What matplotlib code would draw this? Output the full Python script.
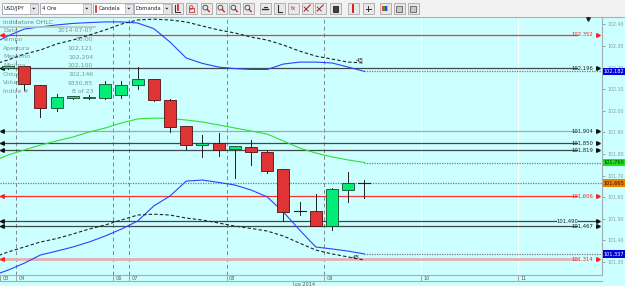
import numpy as np
import matplotlib.pyplot as plt
from matplotlib.patches import Rectangle, Circle, Polygon
from matplotlib.transforms import blended_transform_factory

# USD/JPY 4h candles, 3 - 9 Jul 2014
opens = [102.197, 102.207, 102.121, 102.012, 102.060, 102.060, 102.059, 102.073, 102.121, 102.147,
         102.050, 101.929, 101.841, 101.851, 101.823, 101.834, 101.809, 101.729, 101.537, 101.537,
         101.465, 101.632, 101.664]
highs = [102.207, 102.207, 102.121, 102.077, 102.070, 102.073, 102.137, 102.137, 102.204, 102.147,
         102.054, 101.929, 101.888, 101.897, 101.838, 101.864, 101.818, 101.729, 101.577, 101.614,
         101.642, 101.716, 101.679]
lows = [102.195, 102.096, 101.971, 101.999, 102.054, 102.052, 102.054, 102.059, 102.100, 102.045,
        101.901, 101.823, 101.786, 101.790, 101.688, 101.749, 101.712, 101.489, 101.517, 101.465,
        101.448, 101.577, 101.596]
closes = [102.206, 102.124, 102.012, 102.063, 102.068, 102.064, 102.124, 102.119, 102.146, 102.050,
          101.925, 101.841, 101.851, 101.818, 101.837, 101.807, 101.722, 101.532, 101.535, 101.465,
          101.636, 101.664, 101.665]

# indicators, one value per candle starting one candle before the first
band_up = [102.309, 102.346, 102.378, 102.388, 102.397, 102.404, 102.408, 102.411, 102.411, 102.406,
           102.380, 102.318, 102.244, 102.219, 102.202, 102.195, 102.191, 102.191, 102.216, 102.225,
           102.225, 102.221, 102.202, 102.182]
env_up = [102.212, 102.235, 102.262, 102.281, 102.309, 102.327, 102.350, 102.374, 102.401, 102.420,
          102.424, 102.420, 102.411, 102.392, 102.374, 102.360, 102.341, 102.327, 102.304, 102.276,
          102.253, 102.239, 102.225, 102.221]
middle = [101.763, 101.795, 101.818, 101.841, 101.860, 101.878, 101.901, 101.920, 101.943, 101.962,
          101.966, 101.964, 101.957, 101.948, 101.934, 101.920, 101.906, 101.892, 101.860, 101.827,
          101.804, 101.786, 101.772, 101.760]
band_low = [101.235, 101.262, 101.294, 101.332, 101.350, 101.369, 101.392, 101.420, 101.452, 101.489,
            101.559, 101.605, 101.674, 101.679, 101.668, 101.656, 101.633, 101.601, 101.531, 101.448,
            101.369, 101.360, 101.350, 101.337]
env_low = [101.318, 101.346, 101.369, 101.392, 101.408, 101.429, 101.452, 101.471, 101.494, 101.517,
           101.521, 101.517, 101.503, 101.494, 101.480, 101.466, 101.455, 101.443, 101.420, 101.387,
           101.355, 101.337, 101.323, 101.309]

# horizontal levels drawn on the chart
levels = [102.352, 102.196, 101.904, 101.850, 101.819, 101.606, 101.490, 101.467, 101.314]
level_labels = ['102,352', '102,196', '101,904', '101,850', '101,819', '101,606', '101,490', '101,467', '101,314']
level_kinds = ['red', 'dark', 'gray', 'dark', 'dark', 'red', 'mid', 'dark', 'pink']

# price tags on the right axis
tag_values = [102.182, 101.760, 101.665, 101.337]
tag_labels = ['102,182', '101,760', '101,665', '101,337']

# day separators (candle index) and date labels
day_pos = [-0.5, 0.5, 6.5, 7.5, 13.5, 19.5, 25.5, 31.5]
day_labels = ['03', '04', '06', '07', '08', '09', '10', '11']

price_ticks = [101.30, 101.40, 101.50, 101.60, 101.70, 101.80, 101.90, 102.00, 102.10, 102.20, 102.30, 102.40]

info_labels = ['Data', 'Tempo', 'Apertura', 'Massimo', 'Minimo', 'Chiuso', 'Volume', 'Indice #']
info_values = ['2014-07-07', '00:00', '102,121', '102,204', '102,100', '102,146', '9330,85', '8 of 23']

BG = '#CCFFFF'
W, H = 625, 286

fig = plt.figure(figsize=(6.25, 2.86), dpi=100, facecolor=BG)

# main price chart (pixels: x 0..602, y 17..275)
ax = fig.add_axes([0, 11 / H, 602 / W, 258 / H], facecolor=BG, zorder=1)
ax.set_xlim(-0.494, 36.67)
ax.set_ylim(101.2394, 102.4338)
for s in ['top', 'left']:
    ax.spines[s].set_visible(False)
ax.spines['right'].set_color('#A0B0B0')
ax.spines['bottom'].set_color('#A0B0B0')
ax.spines['right'].set_linewidth(0.8)
ax.spines['bottom'].set_linewidth(0.8)
ax.set_xticks([])
ax.yaxis.tick_right()
ax.set_yticks(price_ticks)
ax.set_yticklabels(['%.2f' % t for t in price_ticks])
ax.tick_params(axis='y', direction='out', length=2.5, width=0.6, pad=1.2, labelsize=3.4,
               colors='#8A9A9A')

bx = blended_transform_factory(ax.transAxes, ax.transData)
xb = blended_transform_factory(ax.transData, ax.transAxes)

# day separators
for p in day_pos[1:6]:
    ax.axvline(p, color='#808888', lw=0.7, dashes=(4, 3), zorder=1)
for p in day_pos[6:]:
    ax.axvline(p, color='white', lw=0.7, zorder=1)

# level lines
kind_color = {'red': '#FF3030', 'dark': '#404848', 'gray': '#A0A8A8', 'mid': '#404848', 'pink': '#E4B0B0'}
for lv, lab, kind in zip(levels, level_labels, level_kinds):
    c = kind_color[kind]
    lw = 2.0 if kind == 'pink' else 0.9
    tc = '#FF2020' if kind in ('red', 'pink') else '#202020'
    ac = '#FF2020' if kind in ('red', 'pink') else '#101010'
    if kind == 'mid':
        ax.plot([0, 0.924], [lv, lv], color=c, lw=lw, transform=bx, zorder=2)
        ax.plot([0.96, 0.988], [lv, lv], color=c, lw=lw, transform=bx, zorder=2)
        ax.text(0.942, lv, lab, transform=bx, fontsize=3.8, ha='center', va='center', color=tc)
    else:
        ax.plot([0, 0.958], [lv, lv], color=c, lw=lw, transform=bx, zorder=2)
        ax.text(0.985, lv, lab, transform=bx, fontsize=3.8, ha='right', va='center', color=tc)
    ax.plot([0.993], [lv], marker='>', ms=2.6, color=ac, transform=bx, clip_on=False, zorder=4)
    ax.plot([0.004], [lv], marker='<', ms=2.6, color=ac, transform=bx, zorder=4)

# indicator lines
xi = np.arange(-1, len(opens))
ax.plot(xi, band_up, color='#3040FF', lw=0.8, zorder=3)
ax.plot(xi, band_low, color='#3040FF', lw=0.8, zorder=3)
ax.plot(xi, middle, color='#30E030', lw=0.8, zorder=3)
ax.plot(xi, env_up, color='#202020', lw=0.8, dashes=(3, 2), zorder=3)
ax.plot(xi, env_low, color='#202020', lw=0.8, dashes=(3, 2), zorder=3)
ax.text(xi[-1] - 0.3, env_up[-1], '45', fontsize=4.5, style='italic', ha='center', va='bottom', color='#202020')
ax.text(xi[-1] - 0.5, env_low[-1], '45', fontsize=4.5, style='italic', ha='center', va='bottom', color='#202020')

# dotted extensions to the price axis
for v in tag_values:
    start = -0.494 if v == closes[-1] else xi[-1]
    ax.plot([start, 36.67], [v, v], color='#708080', lw=0.9, ls=(0, (1, 1)), zorder=2)

# candles
for i, (o, h, l, c) in enumerate(zip(opens, highs, lows, closes)):
    ax.plot([i, i], [l, h], color='#202020', lw=0.7, zorder=5)
    if abs(c - o) < 0.003:
        ax.plot([i - 0.37, i + 0.37], [c, c], color='#202020', lw=0.8, zorder=6)
        continue
    fc = '#00EE78' if c > o else '#E03434'
    ec = '#1A4A30' if c > o else '#501010'
    ax.add_patch(Rectangle((i - 0.37, min(o, c)), 0.74, abs(c - o), facecolor=fc,
                           edgecolor=ec, lw=0.6, zorder=6))

# price tags
tag_style = [('#0000DD', 'white'), ('#20E020', '#103010'), ('#E88000', '#301000'), ('#0000DD', 'white')]
for v, lab, (fc, tc) in zip(tag_values, tag_labels, tag_style):
    ax.add_patch(Rectangle((1.0017, v - 0.0175), 0.037, 0.035, transform=bx, facecolor=fc,
                           edgecolor='none', clip_on=False, zorder=7))
    ax.text(1.019, v, lab, transform=bx, fontsize=3.6, ha='center', va='center', color=tc,
            clip_on=False, zorder=8)

# date row below the chart
for p, lab in zip(day_pos, day_labels):
    ax.plot([p, p], [0, -0.023], color='#909898', lw=0.6, transform=xb, clip_on=False)
    ax.text(p + 0.15, -0.0125, lab, transform=xb, fontsize=3.6, ha='left', va='center',
            color='#506060', clip_on=False)
ax.plot([-0.494, 36.67], [-0.023, -0.023], color='#A0B0B0', lw=0.8, transform=xb, clip_on=False)
ax.text(17.6, -0.036, 'lug 2014', transform=xb, fontsize=3.6, ha='left', va='center',
        color='#506060', clip_on=False)

# overlay in pixel coordinates: toolbar and info box
top = fig.add_axes([0, 0, 1, 1], facecolor='none', zorder=5)
top.set_xlim(0, W)
top.set_ylim(H, 0)
top.axis('off')

top.add_patch(Rectangle((0, 0), W, 16.5, facecolor='#F2F2F2', edgecolor='none'))
top.plot([0, W], [16.5, 16.5], color='#B0B0B0', lw=0.8)

combos = [(2, 38, 'USD/JPY'), (40, 91, '4 Ore'), (93, 133, 'Candela'), (134, 171, 'Domanda')]
for x0, x1, lab in combos:
    top.add_patch(Rectangle((x0, 3), x1 - x0, 11, facecolor='white', edgecolor='#9AA4B0', lw=0.6))
    top.add_patch(Rectangle((x1 - 8, 3.5), 7.5, 10, facecolor='#E6E6E6', edgecolor='#B0B0B0', lw=0.5))
    top.add_patch(Polygon([[x1 - 5.8, 7.8], [x1 - 2.6, 7.8], [x1 - 4.2, 9.6]], closed=True,
                          facecolor='#202020', edgecolor='none'))
    tx = x0 + 2
    if lab == 'Candela':
        top.plot([x0 + 3, x0 + 3], [5.5, 11.5], color='#D02020', lw=1.2)
        tx = x0 + 6
    top.text(tx, 8.7, lab, fontsize=3.8, ha='left', va='center', color='#202020')

icons = [172, 186, 201, 216, 229, 243, 260, 274, 288, 302, 315, 330, 348, 363, 380, 394, 408]
for k, x0 in enumerate(icons):
    top.add_patch(Rectangle((x0, 3), 10.5, 11, facecolor='#E8E8E8', edgecolor='#A8A8A8', lw=0.6))
    cx = x0 + 5.2
    if k in (2, 3, 4, 5):
        top.add_patch(Circle((cx - 0.8, 7.6), 2.4, facecolor='none', edgecolor='#404040', lw=0.6))
        top.plot([cx + 1, cx + 3], [9.4, 11.6], color='#D02020', lw=1.0)
    elif k == 0:
        top.plot([cx - 2, cx - 2, cx + 3], [4.5, 12, 12], color='#303030', lw=0.7)
        top.plot([cx + 1, cx + 1], [5, 10], color='#D02020', lw=1.2)
    elif k == 1:
        top.add_patch(Rectangle((cx - 2.5, 8), 5, 4, facecolor='none', edgecolor='#C03030', lw=0.6))
        top.add_patch(Circle((cx, 7.5), 1.8, facecolor='none', edgecolor='#C03030', lw=0.6))
    elif k == 6:
        top.plot([cx - 3, cx + 3], [9, 9], color='#303030', lw=1.0)
        top.plot([cx - 1, cx + 2], [7, 7], color='#303030', lw=0.8)
    elif k == 7:
        top.plot([cx - 1, cx - 1], [4.5, 12], color='#303030', lw=0.8)
        top.plot([cx, cx + 3], [11.5, 11.5], color='#303030', lw=0.8)
    elif k == 8:
        top.text(cx, 8.7, 'fx', fontsize=4, ha='center', va='center', color='#C02020')
    elif k in (9, 10):
        top.plot([cx - 3, cx + 3], [11, 5], color='#C02020', lw=0.8)
        top.plot([cx - 3, cx + 1], [7, 11], color='#404040', lw=0.6)
    elif k == 11:
        top.add_patch(Rectangle((cx - 2.5, 5.5), 5, 6, facecolor='#404040', edgecolor='#202020', lw=0.6))
    elif k == 12:
        top.plot([cx, cx], [4.5, 12], color='#D02020', lw=1.4)
    elif k == 13:
        top.plot([cx - 2.5, cx + 2.5], [8.5, 8.5], color='#303030', lw=0.7)
        top.plot([cx, cx], [6, 11], color='#303030', lw=0.7)
    elif k == 14:
        for j, col in enumerate(['#E04040', '#40A040', '#4040E0', '#E0C020']):
            top.add_patch(Rectangle((cx - 3 + 1.5 * j, 6), 1.4, 5, facecolor=col, edgecolor='none'))
    else:
        top.add_patch(Rectangle((cx - 3, 5.5), 6, 6, facecolor='#C8C8C8', edgecolor='#606060', lw=0.6))

# marker at top of the price scale
top.plot([588], [18.5], marker='v', ms=2.5, color='#202020')

# OHLC info box
top.text(3, 22, 'Indicatore OHLC', fontsize=4.4, ha='left', va='center', color='#708080')
top.plot([0, 95], [26.8, 26.8], color='#B8C4C4', lw=1.2)
for r, (lab, val) in enumerate(zip(info_labels, info_values)):
    y = 31 + r * 8.65
    top.text(3, y, lab, fontsize=4.4, ha='left', va='center', color='#607070', alpha=0.75)
    top.text(93, y, val, fontsize=4.4, ha='right', va='center', color='#607070', alpha=0.75)

fig.savefig('out.png', dpi=100, facecolor=BG)
